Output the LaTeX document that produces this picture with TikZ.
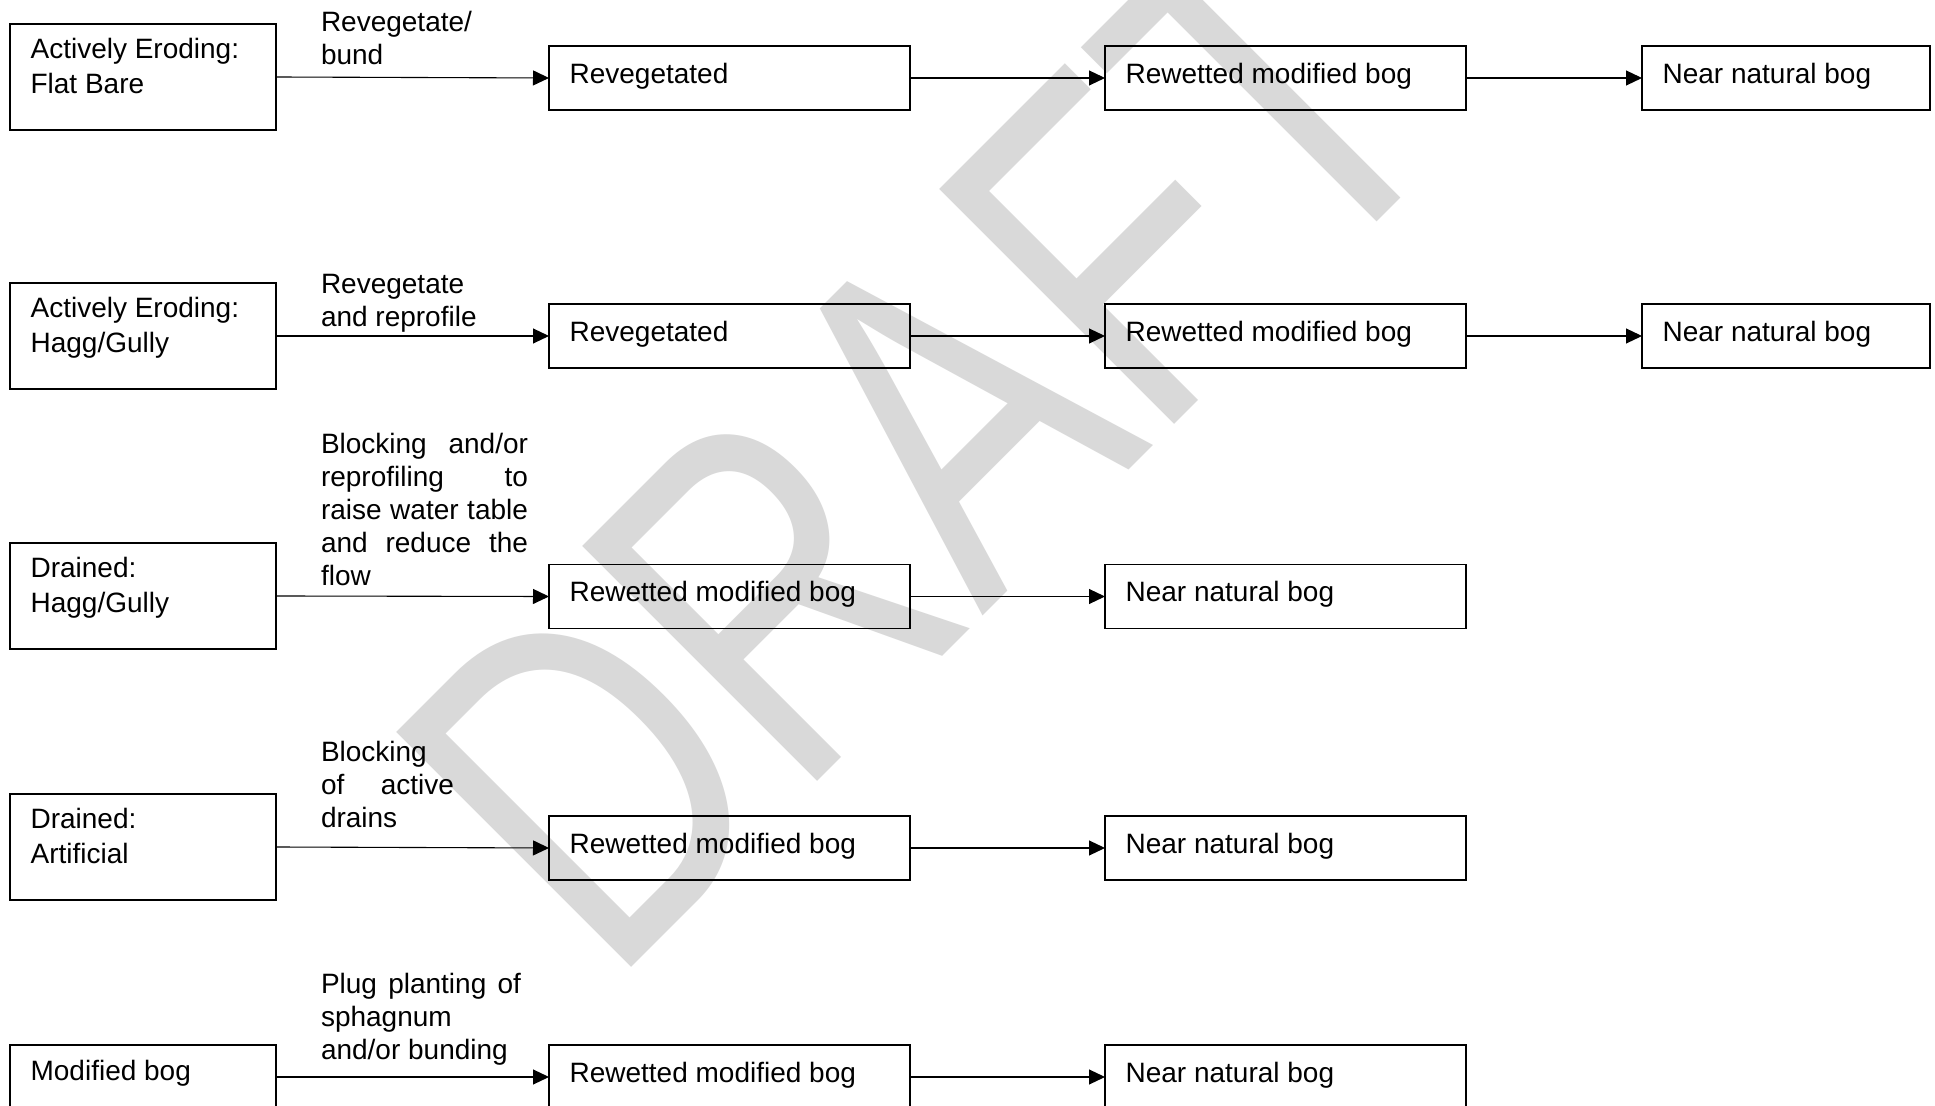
\documentclass[tikz,border=0pt]{standalone}
\usepackage{graphicx}
\usepackage{fontspec}
\setmainfont{Liberation Sans}
\usetikzlibrary{arrows.meta}
\definecolor{wmgray}{RGB}{217,217,217}
\newcommand{\boxfont}{\fontsize{14pt}{17.5pt}\selectfont}
\newcommand{\lblfont}{\fontsize{14pt}{16.5pt}\selectfont}
\newcommand{\wmfont}{\fontsize{241.5pt}{241.5pt}\selectfont}
% left box content: two lines, left padded
\newcommand{\twoline}[2]{\hbox to 133pt{\kern10.3pt\vtop{\hbox{#1}\hbox{#2}}\hss}}
\newcommand{\oneline}[2]{\hbox to #1{\kern10.3pt #2\hss}}
\tikzset{
  lbox/.style={draw, line width=0.8pt, inner sep=0pt, outer sep=0pt, font=\boxfont,
    text height=17.5pt, text depth=35.5pt, anchor=north west},
  lboxs/.style={lbox, text depth=14.5pt},
  sbox/.style={draw, line width=0.8pt, inner sep=0pt, outer sep=0pt, font=\boxfont,
    text height=18.75pt, text depth=13.25pt, anchor=north west},
  lbl/.style={inner sep=0pt, outer sep=0pt, font=\lblfont, anchor=base west},
  arr/.style={-{Triangle[length=8pt,width=7.5pt]}, line width=0.55pt},
  wmark/.style={inner sep=0pt, outer sep=0pt, font=\wmfont, text=wmgray,
    anchor=base west, rotate=45}
}
\begin{document}
\begin{tikzpicture}[x=0.5pt,y=-0.5pt]
\fill[white] (0,0) rectangle (1935,1106);
\useasboundingbox (0,0) rectangle (1935,1106);

% watermark
\node[wmark] (wm) at (610.7,988.3) {\scalebox{0.753}[1]{DRAFT}};

% left column
\node[lbox] (a1) at (10,24) {\twoline{Actively Eroding:}{Flat Bare}};
\node[lbox] (a2) at (10,283) {\twoline{Actively Eroding:}{Hagg/Gully}};
\node[lbox] (a3) at (10,543) {\twoline{Drained:}{Hagg/Gully}};
\node[lbox] (a4) at (10,794) {\twoline{Drained:}{Artificial}};
\node[lboxs] (a5) at (10,1045) {\oneline{133pt}{Modified bog}};

% second column
\node[sbox] (b1) at (549,46) {\oneline{180.5pt}{Revegetated}};
\node[sbox] (b2) at (549,304) {\oneline{180.5pt}{Revegetated}};
\node[sbox] (b3) at (549,564.5) {\oneline{180.5pt}{Rewetted modified bog}};
\node[sbox] (b4) at (549,816) {\oneline{180.5pt}{Rewetted modified bog}};
\node[sbox] (b5) at (549,1045) {\oneline{180.5pt}{Rewetted modified bog}};

% third column
\node[sbox] (c1) at (1105,46) {\oneline{180.5pt}{Rewetted modified bog}};
\node[sbox] (c2) at (1105,304) {\oneline{180.5pt}{Rewetted modified bog}};
\node[sbox] (c3) at (1105,564.5) {\oneline{180.5pt}{Near natural bog}};
\node[sbox] (c4) at (1105,816) {\oneline{180.5pt}{Near natural bog}};
\node[sbox] (c5) at (1105,1045) {\oneline{180.5pt}{Near natural bog}};

% fourth column
\node[sbox] (d1) at (1642,46) {\oneline{144pt}{Near natural bog}};
\node[sbox] (d2) at (1642,304) {\oneline{144pt}{Near natural bog}};

% labels
\node[lbl] (l1) at (321,31.7) {\vtop{\hbox{Revegetate/}\hbox{bund}}};
\node[lbl] (l2) at (321,293.3) {\vtop{\hbox{Revegetate}\hbox{and reprofile}}};
\node[lbl] (l3) at (321,453.3) {\vtop{%
  \hbox to 103.5pt{Blocking\hfill and/or}%
  \hbox to 103.5pt{reprofiling\hfill to}%
  \hbox to 103.5pt{raise\hfill water\hfill table}%
  \hbox to 103.5pt{and\hfill reduce\hfill the}%
  \hbox{flow}}};
\node[lbl] (l4) at (321,761.7) {\vtop{%
  \hbox{Blocking}%
  \hbox to 66.5pt{of\hfill active}%
  \hbox{drains}}};
\node[lbl] (l5) at (321,993.3) {\vtop{%
  \hbox to 100pt{Plug\hfill planting\hfill of}%
  \hbox{sphagnum}%
  \hbox{and/or bunding}}};

% connectors
\draw[arr] (a1.east) -- (b1.west);
\draw[arr] (b1.east) -- (c1.west);
\draw[arr] (c1.east) -- (d1.west);
\draw[arr] (a2.east) -- (b2.west);
\draw[arr] (b2.east) -- (c2.west);
\draw[arr] (c2.east) -- (d2.west);
\draw[arr] (a3.east) -- (b3.west);
\draw[arr] (b3.east) -- (c3.west);
\draw[arr] (a4.east) -- (b4.west);
\draw[arr] (b4.east) -- (c4.west);
\draw[arr] (a5.east) -- (b5.west);
\draw[arr] (b5.east) -- (c5.west);
\end{tikzpicture}
\end{document}
